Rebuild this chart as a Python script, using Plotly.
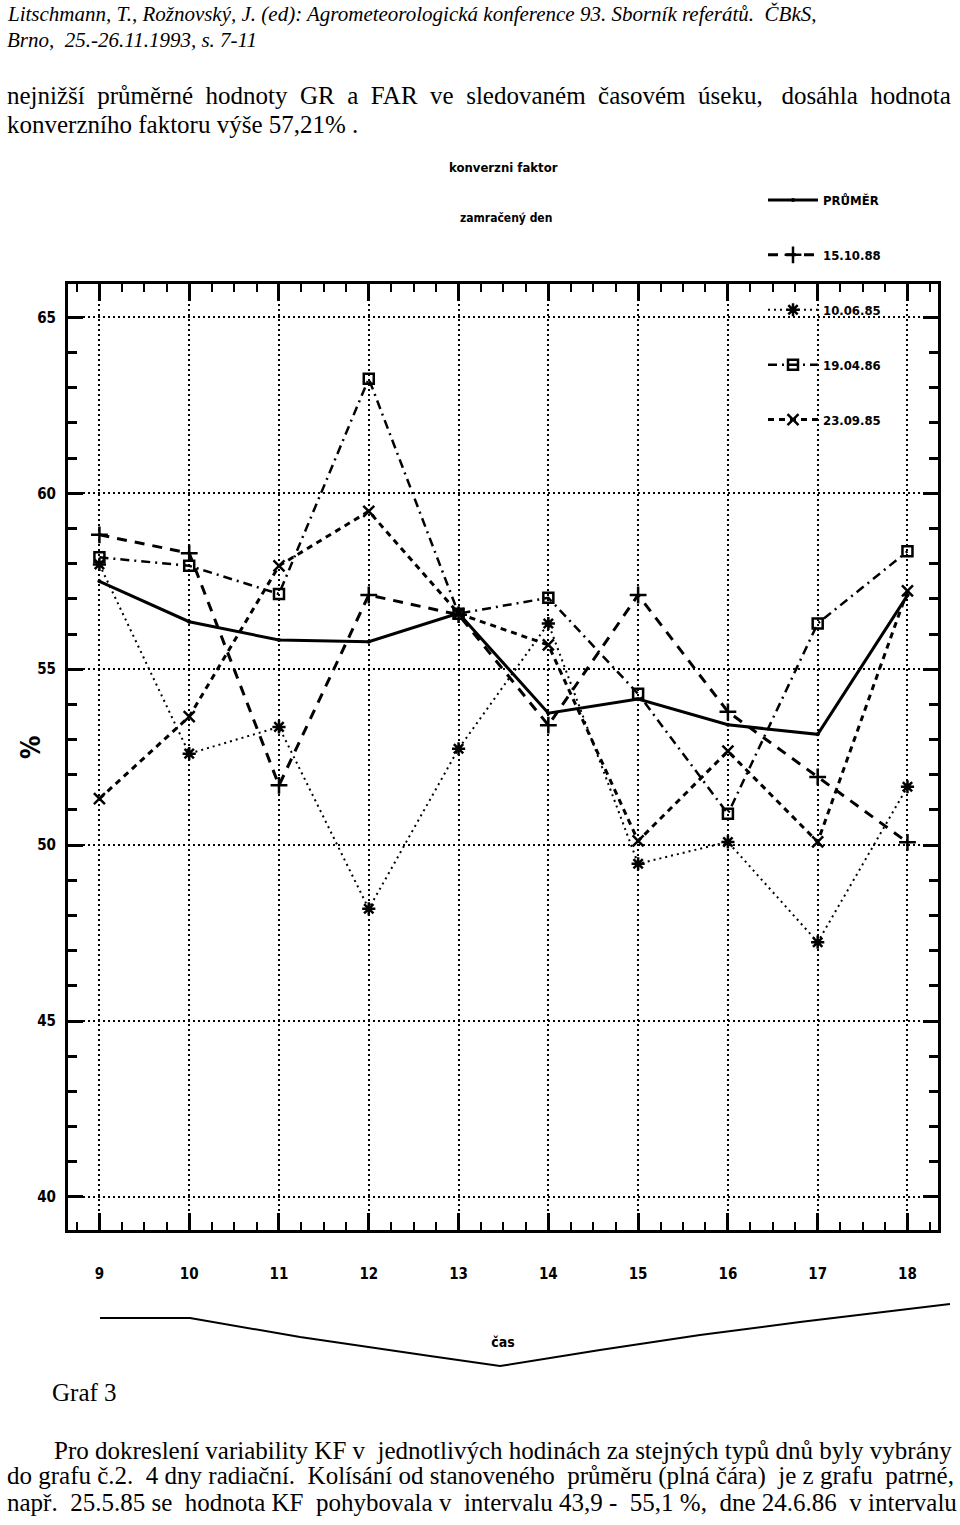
import plotly.graph_objects as go

# ---------------- data ----------------
hours = [9, 10, 11, 12, 13, 14, 15, 16, 17, 18]
series_names = ["PRŮMĚR", "15.10.88", "10.06.85", "19.04.86", "23.09.85"]
prumer = [57.50, 56.35, 55.83, 55.78, 56.59, 53.75, 54.15, 53.42, 53.15, 57.10]
d_151088 = [58.82, 58.30, 51.70, 57.11, 56.55, 53.41, 57.11, 53.79, 51.94, 50.08]
d_100685 = [57.98, 52.60, 53.36, 48.19, 52.74, 56.30, 49.47, 50.09, 47.24, 51.66]
d_190486 = [58.18, 57.94, 57.14, 63.26, 56.58, 57.03, 54.30, 50.89, 56.30, 58.35]
d_230985 = [51.32, 53.65, 57.94, 59.49, 56.58, 55.69, 50.12, 52.67, 50.09, 57.23]
y_ticks = [40, 45, 50, 55, 60, 65]
x_ticks = hours

# ---------------- layout helpers ----------------
W, H = 960, 1525
L, R, T, B = 68, 938, 284, 1230


def px_x(x):
    return (x - L) / (R - L)


def px_y(y):
    return (B - y) / (B - T)


PLOT_FONT = "Liberation Sans Narrow, DejaVu Sans Condensed, Arial Narrow, sans-serif"
SERIF = "Liberation Serif, Times New Roman, serif"
NB = "\u00a0"

fig = go.Figure()

styles = [
    (prumer, dict(width=3, dash="solid"), dict(size=4, symbol="circle")),
    (d_151088, dict(width=3, dash="10px,8px"), dict(size=12, symbol="cross-thin-open", line=dict(width=2.5, color="black"))),
    (d_100685, dict(width=2, dash="2px,4px"), dict(size=11, symbol="asterisk-open", line=dict(width=2.5, color="black"))),
    (d_190486, dict(width=2.5, dash="9px,5px,2px,5px"), dict(size=10, symbol="square-open", line=dict(width=2.5, color="black"))),
    (d_230985, dict(width=3, dash="6px,5px"), dict(size=11, symbol="x-thin-open", line=dict(width=2.5, color="black"))),
]

for name, (vals, ln, mk) in zip(series_names, styles):
    ln = dict(ln, color="black")
    mk = dict(mk, color="black")
    fig.add_trace(go.Scatter(
        x=hours, y=vals, name=name, legendgroup=name,
        mode="lines+markers", line=ln, marker=mk,
    ))

axis_common = dict(
    showline=True, linecolor="black", linewidth=3, mirror="ticks",
    ticks="inside", tickcolor="black", tickwidth=3,
    showgrid=True, gridcolor="black", gridwidth=1.5, griddash="2px,3px",
    zeroline=False,
    tickfont=dict(family=PLOT_FONT, size=15, color="black", weight="bold"),
)

fig.update_xaxes(
    **axis_common,
    range=[8.65, 18.34], tickmode="array", tickvals=x_ticks,
    ticktext=[str(h) for h in x_ticks], ticklen=17, ticklabelstandoff=28,
    minor=dict(ticks="inside", dtick=0.25, ticklen=8, tickwidth=2, tickcolor="black", showgrid=False),
    title=dict(text="čas", standoff=56, font=dict(family=PLOT_FONT, size=14, color="black", weight="bold")),
)
fig.update_yaxes(
    **axis_common,
    range=[39.06, 65.95], tickmode="array", tickvals=y_ticks,
    ticktext=[str(v) for v in y_ticks], ticklen=15, ticklabelstandoff=6,
    minor=dict(ticks="inside", dtick=1, ticklen=9, tickwidth=3, tickcolor="black", showgrid=False),
)

fig.update_layout(
    width=W, height=H,
    margin=dict(l=L, r=W - R, t=T, b=H - B, autoexpand=False),
    paper_bgcolor="white", plot_bgcolor="white",
    showlegend=True,
    legend=dict(
        x=px_x(763), y=px_y(185), xanchor="left", yanchor="top",
        bgcolor="rgba(0,0,0,0)", traceorder="grouped", tracegroupgap=35,
        itemwidth=50,
        font=dict(family=PLOT_FONT, size=13, color="black", weight="bold"),
    ),
)

S2 = " " + NB
annotations = [
    dict(text="%", x=px_x(31), y=px_y(748), xanchor="center", yanchor="middle", textangle=-90,
         font=dict(family=PLOT_FONT, size=26, color="black", weight="bold")),
    dict(text="konverzni faktor", x=px_x(447), y=px_y(167), xanchor="left", yanchor="middle",
         font=dict(family=PLOT_FONT, size=13, color="black", weight="bold")),
    dict(text="zamračený den", x=px_x(458), y=px_y(218), xanchor="left", yanchor="middle",
         font=dict(family=PLOT_FONT, size=12, color="black", weight="bold")),
    # page text
    dict(text="<i>Litschmann, T., Rožnovský, J. (ed): Agrometeorologická konference 93. Sborník referátů.  ČBkS,</i>",
         x=px_x(5), y=px_y(14), xanchor="left", yanchor="middle",
         font=dict(family=SERIF, size=21, color="black")),
    dict(text="<i>Brno,  25.-26.11.1993, s. 7-11</i>",
         x=px_x(5), y=px_y(40), xanchor="left", yanchor="middle",
         font=dict(family=SERIF, size=21, color="black")),
    dict(text=S2.join("nejnižší průměrné hodnoty GR a FAR ve sledovaném časovém úseku, dosáhla hodnota".split(" ")).replace("úseku,", "úseku," + NB),
         x=px_x(5), y=px_y(96), xanchor="left", yanchor="middle",
         font=dict(family=SERIF, size=25, color="black")),
    dict(text="konverzního faktoru výše 57,21% .",
         x=px_x(5), y=px_y(125), xanchor="left", yanchor="middle",
         font=dict(family=SERIF, size=25, color="black")),
    dict(text="Graf 3",
         x=px_x(50), y=px_y(1392), xanchor="left", yanchor="middle",
         font=dict(family=SERIF, size=25, color="black")),
    dict(text="Pro dokreslení variability KF v" + S2 + "jednotlivých hodinách za stejných typů dnů byly vybrány",
         x=px_x(52), y=px_y(1450), xanchor="left", yanchor="middle",
         font=dict(family=SERIF, size=25, color="black")),
    dict(text="do grafu č.2." + S2 + "4 dny radiační." + S2 + "Kolísání od stanoveného" + S2 + "průměru (plná čára)" + S2 + "je z grafu" + S2 + "patrné,",
         x=px_x(5), y=px_y(1476), xanchor="left", yanchor="middle",
         font=dict(family=SERIF, size=25, color="black")),
    dict(text="např." + S2 + "25.5.85 se" + S2 + "hodnota KF" + S2 + "pohybovala v" + S2 + "intervalu 43,9 -" + S2 + "55,1 %," + S2 + "dne 24.6.86" + S2 + "v intervalu",
         x=px_x(5), y=px_y(1502), xanchor="left", yanchor="middle",
         font=dict(family=SERIF, size=25, color="black")),
]
for a in annotations:
    a.update(xref="paper", yref="paper", showarrow=False)
fig.update_layout(annotations=annotations)

# decorative curve under the axis (as in the scanned page)
curve_px = [(100, 1318), (190, 1318), (300, 1337), (430, 1356), (500, 1366),
            (600, 1350), (700, 1335), (800, 1322), (950, 1304)]
path = "M " + " L ".join(f"{px_x(x):.5f},{px_y(y):.5f}" for x, y in curve_px)
fig.add_shape(type="path", path=path, xref="paper", yref="paper",
              line=dict(color="black", width=2))

fig.write_html("out.html", config={"displayModeBar": False},
               post_script="document.body.style.margin='0px';")
